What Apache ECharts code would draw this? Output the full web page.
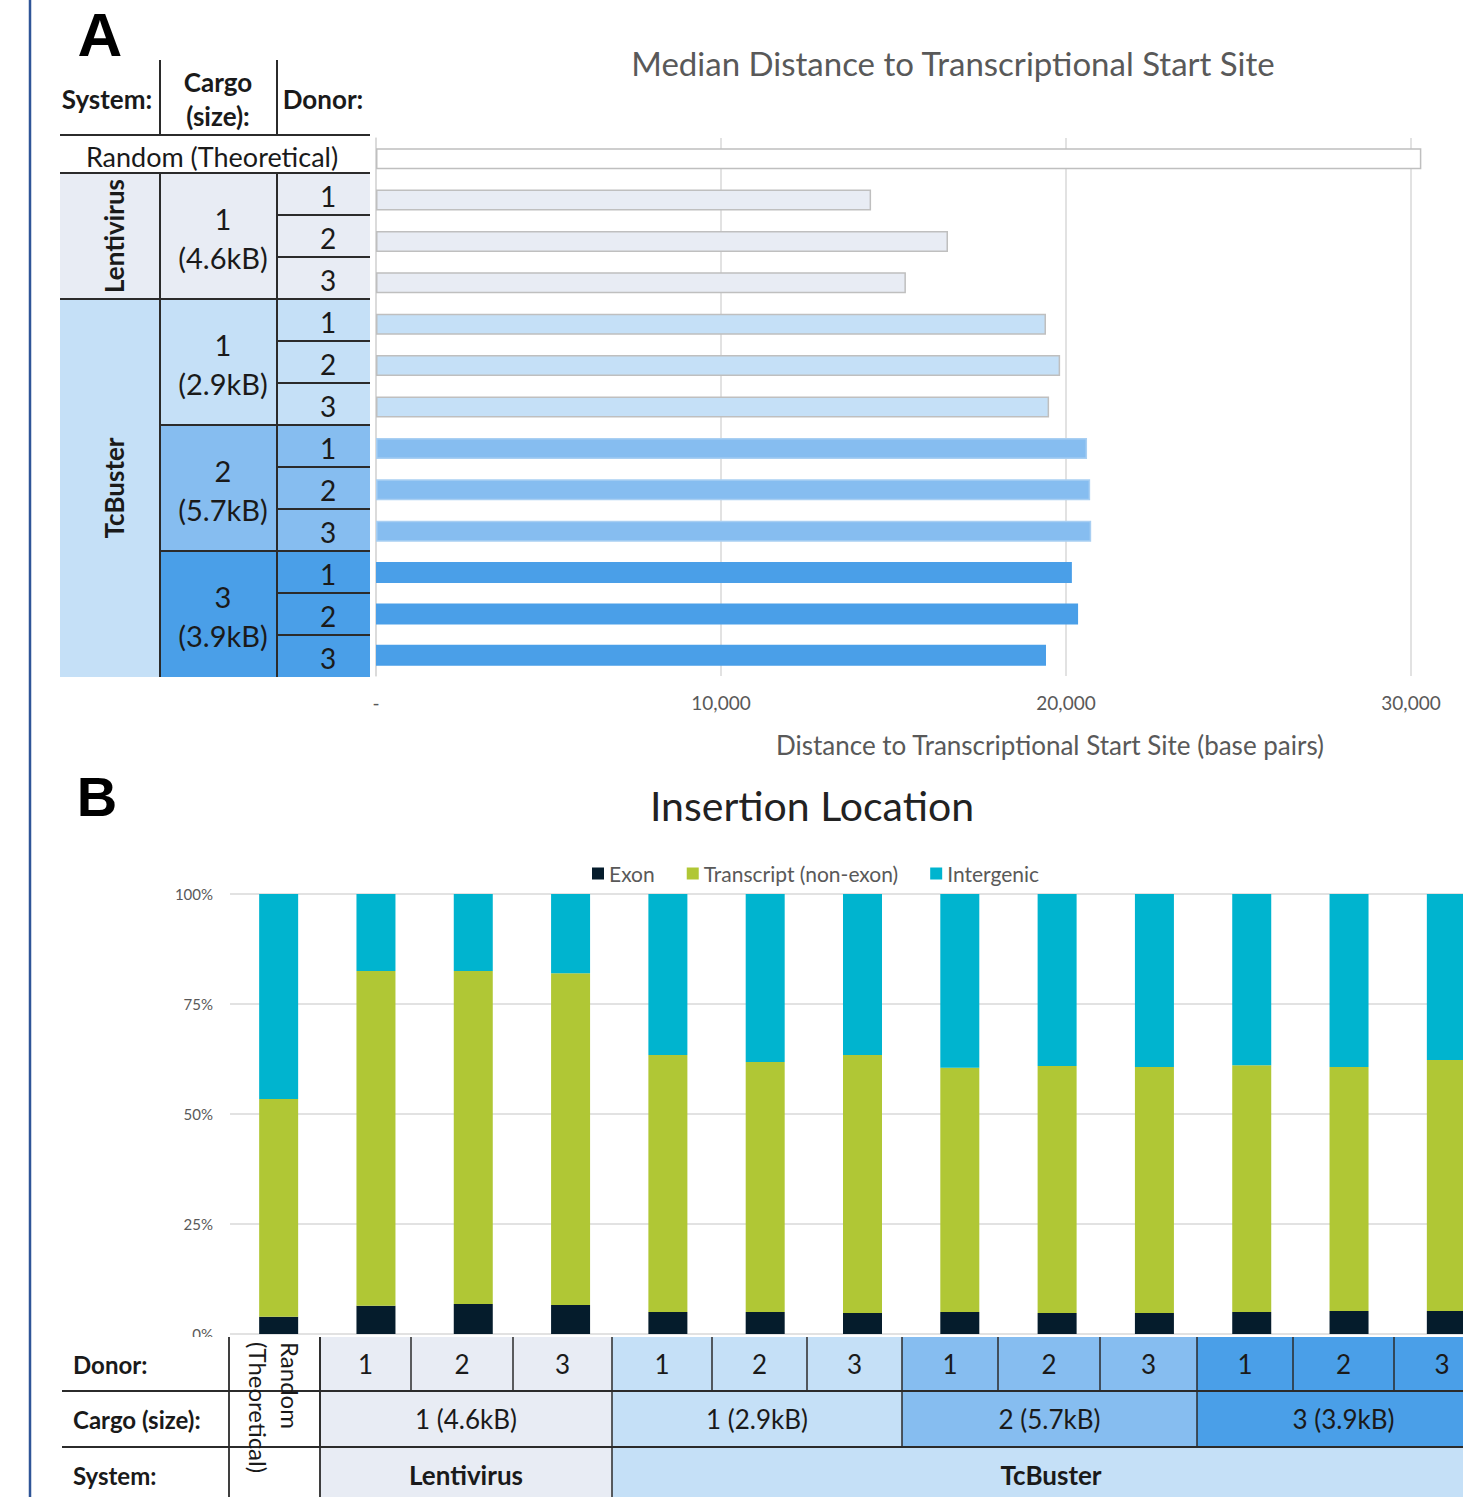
<!DOCTYPE html>
<html><head><meta charset="utf-8">
<script src="https://cdn.jsdelivr.net/npm/echarts@6/dist/echarts.min.js"></script>
<style>html,body{margin:0;padding:0;background:#fff;overflow:hidden}#c{width:1520px;height:1497px}</style>
</head><body><div id="c"></div>
<script>
// ---------------- DATA ----------------
const categories = ['Random (Theoretical)',
  'Lentivirus 1 (4.6kB) donor 1','Lentivirus 1 (4.6kB) donor 2','Lentivirus 1 (4.6kB) donor 3',
  'TcBuster 1 (2.9kB) donor 1','TcBuster 1 (2.9kB) donor 2','TcBuster 1 (2.9kB) donor 3',
  'TcBuster 2 (5.7kB) donor 1','TcBuster 2 (5.7kB) donor 2','TcBuster 2 (5.7kB) donor 3',
  'TcBuster 3 (3.9kB) donor 1','TcBuster 3 (3.9kB) donor 2','TcBuster 3 (3.9kB) donor 3'];
const rowGroups = ['random','lenti','lenti','lenti','tc1','tc1','tc1','tc2','tc2','tc2','tc3','tc3','tc3'];
const donorLabels = ['1','2','3'];
const systemLabels = ['Lentivirus','TcBuster'];
const cargoLabelsA = ['1\n(4.6kB)','1\n(2.9kB)','2\n(5.7kB)','3\n(3.9kB)'];
const cargoLabelsB = ['1 (4.6kB)','1 (2.9kB)','2 (5.7kB)','3 (3.9kB)'];
const randomLabel = 'Random (Theoretical)';
const randomLabelB = 'Random\n(Theoretical)';

const medianDistance = [30300, 14350, 16580, 15360, 19420, 19830, 19510, 20610, 20700, 20730, 20170, 20350, 19420];
const exonPct       = [3.9, 6.4, 6.8, 6.6, 5.0, 5.0, 4.8, 5.0, 4.8, 4.8, 5.0, 5.2, 5.2];
const transcriptPct = [49.5, 76.1, 75.7, 75.4, 58.4, 56.8, 58.6, 55.5, 56.1, 55.9, 56.1, 55.5, 57.1];
const intergenicPct = [46.6, 17.5, 17.5, 18.0, 36.6, 38.2, 36.6, 39.5, 39.1, 39.3, 38.9, 39.3, 37.7];

const distTicks = [0, 10000, 20000, 30000];
const distTickLabels = ['-', '10,000', '20,000', '30,000'];
const pctTicks = [0, 25, 50, 75, 100];
const pctTickLabels = ['0%', '25%', '50%', '75%', '100%'];

const titleA = 'Median Distance to Transcriptional Start Site';
const axisNameA = 'Distance to Transcriptional Start Site (base pairs)';
const titleB = 'Insertion Location';
const seriesNamesB = ['Exon', 'Transcript (non-exon)', 'Intergenic'];

// ---------------- STYLE ----------------
const F = "Lato, 'Open Sans', sans-serif";
const groupFill = {random:'#ffffff', lenti:'#e8ecf4', tc1:'#c5e0f7', tc2:'#86bdf0', tc3:'#4a9fe8'};
const groupBorder = {random:'#bfbfbf', lenti:'#bfbfbf', tc1:'#bfbfbf', tc2:'#a9cff2', tc3:'#4a9fe8'};
const cargoGroupKeys = ['lenti','tc1','tc2','tc3'];

const G = [];
function rect(x,y,w,h,fill){G.push({type:'rect',silent:true,z:50,shape:{x:x,y:y,width:w,height:h},style:{fill:fill}});}
function line(x1,y1,x2,y2,w,c){G.push({type:'line',silent:true,z:52,shape:{x1:x1,y1:y1,x2:x2,y2:y2},style:{stroke:c||'#2b2b2b',lineWidth:w||2}});}
function text(x,y,t,size,o){o=o||{};G.push({type:'text',silent:true,z:54,x:x,y:y,rotation:o.rot||0,
  style:{text:t,fontSize:size,fontFamily:o.family||F,fontWeight:o.bold?'bold':'normal',fill:o.color||'#1a1a1a',
  align:o.align||'center',verticalAlign:o.va||'middle',lineHeight:o.lh||Math.round(size*1.2)}});}

// Left border line and panel letters
line(30,0,30,1497,2.5,'#2f5597');
text(100,34,'A',62,{bold:true,family:"'Liberation Sans', Arial, sans-serif",color:'#000',lh:62});
text(97,796,'B',56,{bold:true,family:"'Liberation Sans', Arial, sans-serif",color:'#000',lh:56});
text(953,63,titleA,33,{color:'#595959'});
text(1050,745,axisNameA,26,{color:'#595959'});
text(812,805,titleB,41,{color:'#222'});

// ---------- Table A ----------
(function(){
  const x0=60,x1=160,x2=277,x3=370,top=173,rh=42;
  text(107,99,'System:',26,{bold:true});
  text(218,99,'Cargo\n(size):',26,{bold:true,lh:34});
  text(323,99,'Donor:',26,{bold:true});
  text(212,156,randomLabel,27);
  // system blocks
  rect(x0,top,x1-x0,3*rh,groupFill.lenti);
  rect(x0,top+3*rh,x1-x0,9*rh,groupFill.tc1);
  // cargo blocks
  cargoGroupKeys.forEach(function(g,k){
    rect(x1,top+k*3*rh,x3-x1,3*rh,groupFill[g]);
    text(223,top+k*3*rh+1.5*rh+2,cargoLabelsA[k],29,{lh:39});
    for(let d=0;d<3;d++){ text(328,top+(k*3+d)*rh+rh/2+2,donorLabels[d],28); }
    line(x2,top+k*3*rh+rh,x3,top+k*3*rh+rh,2);
    line(x2,top+k*3*rh+2*rh,x3,top+k*3*rh+2*rh,2);
    if(k>=2) line(x1,top+k*3*rh,x3,top+k*3*rh,2);
  });
  text(114,top+1.5*rh,systemLabels[0],26,{bold:true,rot:Math.PI/2});
  text(114,top+3*rh+4.5*rh,systemLabels[1],26,{bold:true,rot:Math.PI/2});
  line(x1,60,x1,135,2); line(x2,60,x2,135,2);
  line(x0,135,x3,135,2); line(x0,top,x3,top,2);
  line(x0,top+3*rh,x3,top+3*rh,2);
  line(x1,top,x1,top+12*rh,2); line(x2,top,x2,top+12*rh,2);
})();

// ---------- Table B ----------
(function(){
  const r0=1337,r1=1391,r2=1447,r3=1497;
  const groupCols=[[320,411,513,612],[612,712,807,902],[902,998,1100,1197],[1197,1293,1394,1490]];
  rect(230,r0,90,r3-r0,'#ffffff');
  rect(62,r0,168,r3-r0,'#ffffff');
  groupCols.forEach(function(c,k){
    const g=cargoGroupKeys[k];
    rect(c[0],r0,c[3]-c[0],r2-r0,groupFill[g]);
    for(let d=0;d<3;d++) text((c[d]+c[d+1])/2,(r0+r1)/2,donorLabels[d],26);
    text((c[0]+c[3])/2,(r1+r2)/2,cargoLabelsB[k],26);
    line(c[1],r0,c[1],r1,1.5); line(c[2],r0,c[2],r1,1.5);
    line(c[0],r0,c[0],r2,1.5);
  });
  rect(320,r2,292,r3-r2,groupFill.lenti);
  rect(612,r2,908,r3-r2,groupFill.tc1);
  text(466,(r2+r3)/2+3,systemLabels[0],26,{bold:true});
  text(1051,(r2+r3)/2+3,systemLabels[1],26,{bold:true});
  line(612,r2,612,r3,1.5);
  line(62,r1,1520,r1,1.8); line(62,r2,1520,r2,1.8);
  line(229,r0,229,r3,1.8); line(320,r0,320,r3,1.8);
  text(73,(r0+r1)/2,'Donor:',24,{bold:true,align:'left'});
  text(73,(r1+r2)/2,'Cargo (size):',24,{bold:true,align:'left'});
  text(73,(r2+r3)/2+3,'System:',24,{bold:true,align:'left'});
  text(274,1342,randomLabelB,24,{rot:-Math.PI/2,align:'left',lh:32});
})();

// ---------------- CHART ----------------
const chart = echarts.init(document.getElementById('c'), null, {renderer:'svg', width:1520, height:1497});
const option = {
  animation:false,
  backgroundColor:'#ffffff',
  textStyle:{fontFamily:F},
  grid:[
    {left:376, top:138, width:1035, height:538},
    {left:230, top:894, width:1265, height:440}
  ],
  legend:{
    data:seriesNamesB, left:587, top:858, itemWidth:12, itemHeight:12, itemGap:32, icon:'rect',
    textStyle:{fontSize:21, color:'#595959', fontFamily:F}
  },
  xAxis:[
    {type:'value', gridIndex:0, min:distTicks[0], max:distTicks[distTicks.length-1], interval:distTicks[1]-distTicks[0],
     axisLine:{show:false}, axisTick:{show:false},
     splitLine:{lineStyle:{color:'#d9d9d9', width:1.5}},
     axisLabel:{formatter:function(v){return distTickLabels[distTicks.indexOf(v)];}, color:'#595959', fontSize:19, margin:17, fontFamily:F}},
    {type:'category', gridIndex:1, data:categories,
     axisLine:{show:false}, axisTick:{show:false}, axisLabel:{show:false}}
  ],
  yAxis:[
    {type:'category', gridIndex:0, data:categories, inverse:true,
     axisLine:{show:true, lineStyle:{color:'#d9d9d9', width:1.5}}, axisTick:{show:false}, axisLabel:{show:false}},
    {type:'value', gridIndex:1, min:pctTicks[0], max:pctTicks[pctTicks.length-1], interval:pctTicks[1]-pctTicks[0],
     axisLine:{show:false}, axisTick:{show:false},
     splitLine:{lineStyle:{color:'#d9d9d9', width:1.5}},
     axisLabel:{formatter:function(v){return pctTickLabels[pctTicks.indexOf(v)];}, color:'#595959', fontSize:15, margin:17, fontFamily:F}}
  ],
  series:[
    {type:'bar', name:'Median distance', xAxisIndex:0, yAxisIndex:0, barWidth:21, clip:false,
     data:medianDistance.map(function(v,i){const g=rowGroups[i];return {value:v,itemStyle:{color:groupFill[g],borderColor:groupBorder[g],borderWidth:1.5}};})},
    {type:'bar', name:seriesNamesB[0], stack:'loc', xAxisIndex:1, yAxisIndex:1, barWidth:39, data:exonPct, itemStyle:{color:'#051c2c'}},
    {type:'bar', name:seriesNamesB[1], stack:'loc', xAxisIndex:1, yAxisIndex:1, barWidth:39, data:transcriptPct, itemStyle:{color:'#b0c735'}},
    {type:'bar', name:seriesNamesB[2], stack:'loc', xAxisIndex:1, yAxisIndex:1, barWidth:39, data:intergenicPct, itemStyle:{color:'#00b4cf'}}
  ],
  graphic:{elements:G}
};
chart.setOption(option);
</script></body></html>
